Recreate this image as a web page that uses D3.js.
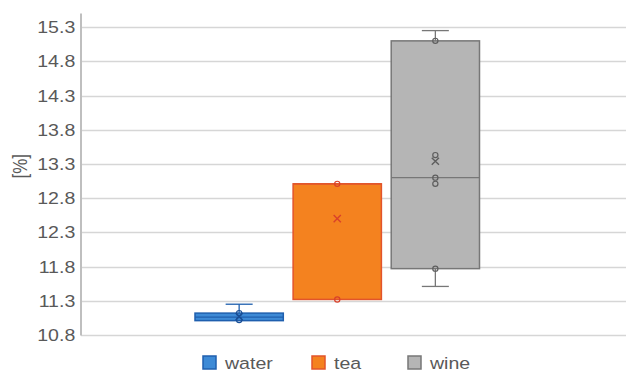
<!DOCTYPE html>
<html>
<head>
<meta charset="utf-8">
<script src="https://cdn.jsdelivr.net/npm/d3@7"></script>
<style>
  html, body { margin: 0; padding: 0; background: #ffffff; }
  text { font-family: "Liberation Sans", Arial, sans-serif; fill: #595959; }
</style>
</head>
<body>
<svg id="chart" width="628" height="374"></svg>
<script>
// Box-plot summary per beverage
const categories = ["water", "tea", "wine"];
const whiskerLow  = [11.01, 11.32, 11.51];
const quartile1   = [11.01, 11.32, 11.77];
const medians     = [11.06, 13.01, 13.10];
const quartile3   = [11.12, 13.01, 15.10];
const whiskerHigh = [11.25, 13.01, 15.25];
const means       = [11.07, 12.50, 13.34];
// Inner points drawn as small circles
const innerPoints = [
  [11.02, 11.12],
  [11.32, 13.01],
  [11.77, 13.01, 13.10, 13.43, 15.10]
];
const yTicks = [10.8, 11.3, 11.8, 12.3, 12.8, 13.3, 13.8, 14.3, 14.8, 15.3];
const axisTitle = "[%]";

const fills   = ["#3d8ad6", "#f4821f", "#b5b5b5"];
const strokes = ["#1f5fae", "#e2542b", "#777777"];
const marks   = ["#1a4f96", "#d9412a", "#5e5e5e"];

// Text is drawn slightly widened
const textStretch = 1.15;

const svg = d3.select("#chart");
const plotLeft = 81, plotRight = 626, plotTop = 13.5, plotBottom = 335;

const y = d3.scaleLinear().domain([10.8, 15.5]).range([plotBottom, plotTop]);
const x = d3.scaleBand().domain(categories).range([195, 479.5]).paddingInner(0.1).paddingOuter(0);

// Horizontal gridlines
svg.append("g").selectAll("line").data(yTicks).join("line")
  .attr("x1", plotLeft).attr("x2", plotRight)
  .attr("y1", d => Math.round(y(d)) + 0.5).attr("y2", d => Math.round(y(d)) + 0.5)
  .attr("stroke", "#d6d6d6").attr("stroke-width", 1.5);

// Y axis with tick labels
const yAxis = d3.axisLeft(y).tickValues(yTicks).tickSize(0).tickPadding(5)
  .tickFormat(d3.format(".1f"));
const ya = svg.append("g").attr("transform", `translate(${plotLeft},0)`).call(yAxis);
ya.select(".domain").remove();
ya.selectAll("text").attr("font-size", 17).style("fill", "#595959")
  .attr("font-family", "Liberation Sans, Arial, sans-serif")
  .attr("transform", `scale(${textStretch},1)`);
svg.append("line").attr("x1", plotLeft).attr("x2", plotLeft).attr("y1", plotTop).attr("y2", plotBottom + 0.5)
  .attr("stroke", "#bfbfbf").attr("stroke-width", 2);

// Axis title
svg.append("text").attr("transform", `translate(20,${(plotTop + plotBottom) / 2 - 8}) rotate(-90) scale(1,${textStretch})`)
  .attr("text-anchor", "middle").attr("dominant-baseline", "central")
  .attr("font-size", 17).text(axisTitle);

// Boxes
const capW = 27;
categories.forEach((c, i) => {
  const g = svg.append("g");
  const cx = x(c) + x.bandwidth() / 2;
  // whiskers
  g.append("line").attr("x1", cx).attr("x2", cx).attr("y1", y(whiskerHigh[i])).attr("y2", y(quartile3[i]))
    .attr("stroke", strokes[i]).attr("stroke-width", 1.3);
  g.append("line").attr("x1", cx).attr("x2", cx).attr("y1", y(quartile1[i])).attr("y2", y(whiskerLow[i]))
    .attr("stroke", strokes[i]).attr("stroke-width", 1.3);
  if (whiskerHigh[i] > quartile3[i])
    g.append("line").attr("x1", cx - capW / 2).attr("x2", cx + capW / 2)
      .attr("y1", y(whiskerHigh[i])).attr("y2", y(whiskerHigh[i]))
      .attr("stroke", strokes[i]).attr("stroke-width", 1.3);
  if (whiskerLow[i] < quartile1[i])
    g.append("line").attr("x1", cx - capW / 2).attr("x2", cx + capW / 2)
      .attr("y1", y(whiskerLow[i])).attr("y2", y(whiskerLow[i]))
      .attr("stroke", strokes[i]).attr("stroke-width", 1.3);
  // box
  const h = Math.max(y(quartile1[i]) - y(quartile3[i]), 1);
  g.append("rect").attr("x", x(c)).attr("width", x.bandwidth())
    .attr("y", y(quartile3[i])).attr("height", h)
    .attr("fill", fills[i]).attr("stroke", strokes[i]).attr("stroke-width", 1.5);
  // median
  g.append("line").attr("x1", x(c)).attr("x2", x(c) + x.bandwidth())
    .attr("y1", y(medians[i])).attr("y2", y(medians[i]))
    .attr("stroke", strokes[i]).attr("stroke-width", 1.3);
  // inner points
  g.selectAll("circle").data(innerPoints[i]).join("circle")
    .attr("cx", cx).attr("cy", d => y(d)).attr("r", 2.6)
    .attr("fill", "none").attr("stroke", marks[i]).attr("stroke-width", 1.2);
  // mean marker
  const my = y(means[i]), s = 3.6;
  g.append("path").attr("d", `M${cx - s},${my - s}L${cx + s},${my + s}M${cx - s},${my + s}L${cx + s},${my - s}`)
    .attr("stroke", marks[i]).attr("stroke-width", 1.4);
});

// Legend
const legendX = [203, 312, 408];
const lg = svg.append("g");
categories.forEach((c, i) => {
  lg.append("rect").attr("x", legendX[i]).attr("y", 356).attr("width", 13).attr("height", 13)
    .attr("fill", fills[i]).attr("stroke", strokes[i]).attr("stroke-width", 1.5);
  lg.append("text").attr("transform", `translate(${legendX[i] + 22},363) scale(${textStretch},1)`)
    .attr("dominant-baseline", "central")
    .attr("font-size", 17).text(c);
});
</script>
</body>
</html>
